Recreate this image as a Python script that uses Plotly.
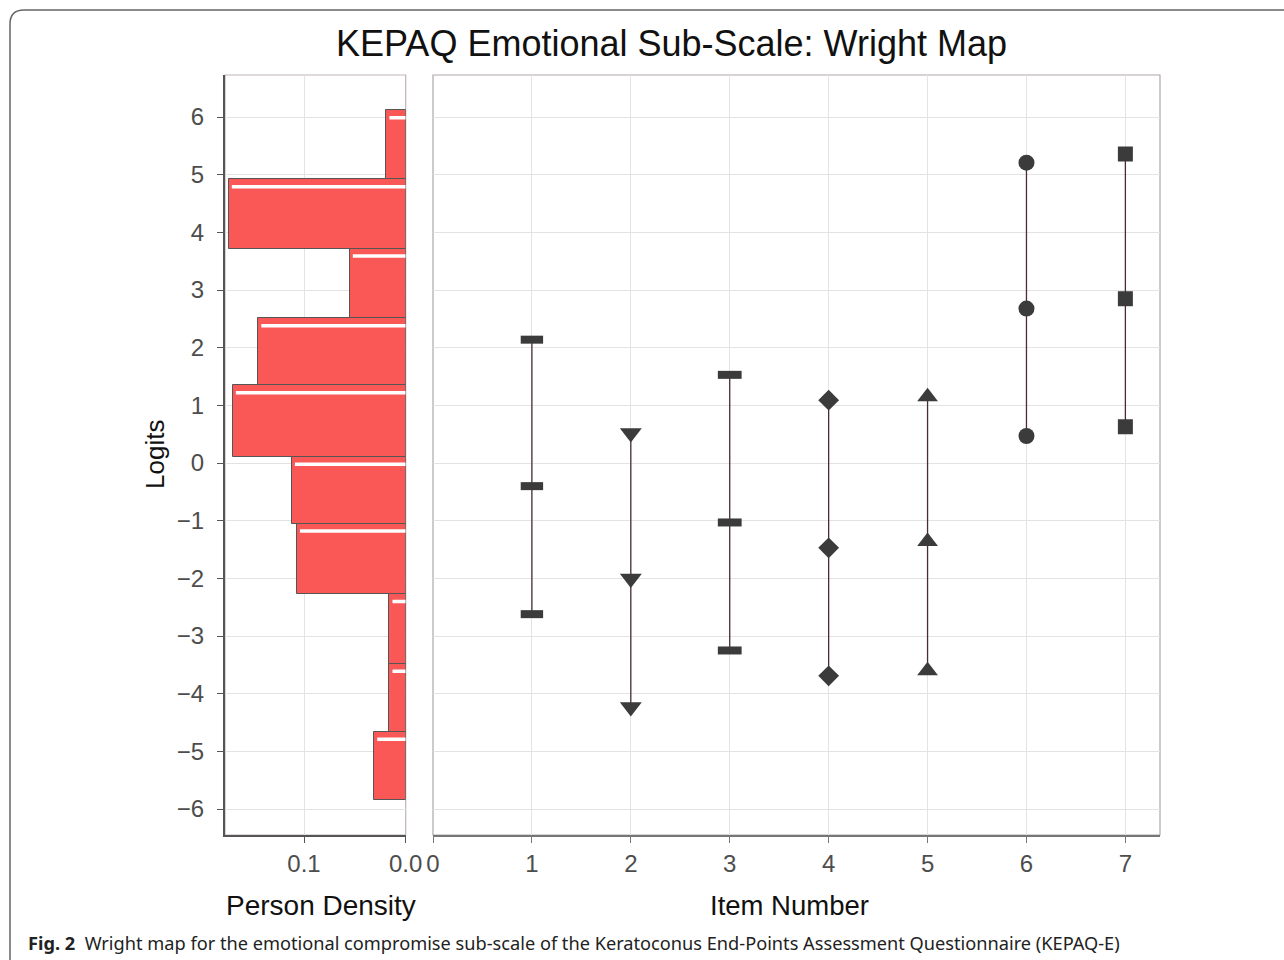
import plotly.graph_objects as go

# ---------------- data ----------------
# person density histogram (logit bin edges, top to bottom) and densities
bin_edges = [6.12, 4.92, 3.72, 2.51, 1.35, 0.11, -1.05, -2.27, -3.48, -4.66, -5.84]
densities = [0.019, 0.174, 0.055, 0.145, 0.170, 0.112, 0.107, 0.016, 0.016, 0.031]

# item thresholds (logits) for items 1..7
items = [1, 2, 3, 4, 5, 6, 7]
thresholds = [
    [2.14, -0.40, -2.62],
    [0.52, -2.00, -4.23],
    [1.53, -1.03, -3.25],
    [1.09, -1.47, -3.69],
    [1.15, -1.36, -3.60],
    [5.21, 2.68, 0.47],
    [5.36, 2.85, 0.63],
]
item_symbols = ["line-ew", "triangle-down", "line-ew", "diamond", "triangle-up", "circle", "square"]
item_sizes = [16, 19, 17, 16, 18, 16, 15]

y_ticks = list(range(-6, 7))
left_x_ticks = [0.1, 0.0]
left_x_labels = ["0.1", "0.0"]
right_x_ticks = list(range(0, 8))

title_text = "KEPAQ Emotional Sub-Scale: Wright Map"
caption_bold = "Fig. 2"
caption_text = "Wright map for the emotional compromise sub-scale of the Keratoconus End-Points Assessment Questionnaire (KEPAQ-E)"

# ---------------- figure ----------------
W, H = 1284, 960
def px(x):
    return x / W
def py(y):
    return 1 - y / H

FONT = "Liberation Sans, Arial, sans-serif"
YR = [-6.45, 6.73]

fig = go.Figure()

centers = [(bin_edges[i] + bin_edges[i + 1]) / 2 for i in range(len(densities))]
widths = [bin_edges[i] - bin_edges[i + 1] for i in range(len(densities))]

fig.add_trace(go.Bar(
    x=densities, y=centers, width=widths, orientation="h",
    marker=dict(color="#fa5757", line=dict(color="#555555", width=1)),
    xaxis="x", yaxis="y", showlegend=False, hoverinfo="skip",
))

# white highlight lines near top of each bar
hx, hy = [], []
for i, d in enumerate(densities):
    yy = bin_edges[i] - 0.13
    hx += [d - 0.003, 0.0, None]
    hy += [yy, yy, None]
fig.add_trace(go.Scatter(
    x=hx, y=hy, mode="lines", line=dict(color="white", width=3.5),
    xaxis="x", yaxis="y", showlegend=False, hoverinfo="skip",
))

for it, th, sym, sz in zip(items, thresholds, item_symbols, item_sizes):
    lw = 8 if sym == "line-ew" else 0
    fig.add_trace(go.Scatter(
        x=[it] * len(th), y=th, mode="lines+markers",
        line=dict(color="#4a2d30", width=1.3),
        marker=dict(symbol=sym, size=sz, color="#3b3b3b",
                    line=dict(color="#3b3b3b", width=lw)),
        xaxis="x2", yaxis="y2", showlegend=False,
    ))

left_dom = [px(225), px(405.7)]
right_dom = [px(433), px(1160)]
y_dom = [py(835), py(75)]

tickfont = dict(family=FONT, size=24, color="#4d4d4d")

fig.update_layout(
    width=W, height=H, autosize=False,
    margin=dict(l=0, r=0, t=0, b=0, pad=0, autoexpand=False),
    paper_bgcolor="white", plot_bgcolor="white",
    bargap=0,
    xaxis=dict(domain=left_dom, range=[0.1777, 0], tickvals=left_x_ticks, ticktext=left_x_labels,
               ticks="outside", ticklen=6, tickcolor="#555", showline=True, linecolor="#555",
               linewidth=2, showgrid=True, gridcolor="#e3e3e3", zeroline=False,
               tickfont=tickfont, anchor="y", fixedrange=True, automargin=False),
    yaxis=dict(domain=y_dom, range=YR, tickvals=y_ticks, ticks="outside", ticklen=6,
               tickcolor="#555", showline=True, linecolor="#555", linewidth=2,
               showgrid=True, gridcolor="#e3e3e3", zeroline=False, tickfont=tickfont,
               ticklabelstandoff=8, anchor="x", fixedrange=True, automargin=False),
    xaxis2=dict(domain=right_dom, range=[0, 7.35], tickvals=right_x_ticks, ticks="outside",
                ticklen=6, tickcolor="#777", showline=True, linecolor="#777", linewidth=1.5,
                showgrid=True, gridcolor="#e3e3e3", zeroline=False, tickfont=tickfont,
                anchor="y2", fixedrange=True, automargin=False),
    yaxis2=dict(domain=y_dom, range=YR, tickvals=y_ticks, showticklabels=False,
                showgrid=True, gridcolor="#e3e3e3", zeroline=False, showline=False,
                anchor="x2", fixedrange=True, automargin=False),
    shapes=[
        dict(type="rect", xref="x domain", yref="y domain", x0=0, x1=1, y0=0, y1=1,
             line=dict(color="#c0b4b4", width=1.2), layer="below"),
        dict(type="rect", xref="x2 domain", yref="y2 domain", x0=0, x1=1, y0=0, y1=1,
             line=dict(color="#b0a8a8", width=1.2), layer="below"),
        # outer rounded frame of the figure panel
        dict(type="path", xref="paper", yref="paper",
             path=(f"M {px(10)},{py(1000)} L {px(10)},{py(24)} "
                   f"Q {px(10)},{py(10)} {px(24)},{py(10)} L {px(1300)},{py(10)}"),
             line=dict(color="#666666", width=1.5)),
    ],
    annotations=[
        dict(text=title_text, x=px(672), y=py(43), xref="paper", yref="paper",
             showarrow=False, font=dict(family=FONT, size=36, color="#111"),
             xanchor="center", yanchor="middle"),
        dict(text="Logits", x=px(155), y=py(455), xref="paper", yref="paper", textangle=-90,
             showarrow=False, font=dict(family=FONT, size=26, color="#111"),
             xanchor="center", yanchor="middle"),
        dict(text="Person Density", x=px(321), y=py(905), xref="paper", yref="paper",
             showarrow=False, font=dict(family=FONT, size=28, color="#111"),
             xanchor="center", yanchor="middle"),
        dict(text="Item Number", x=px(789), y=py(905), xref="paper", yref="paper",
             showarrow=False, font=dict(family=FONT, size=27.5, color="#111"),
             xanchor="center", yanchor="middle"),
        dict(text=f"<b>{caption_bold}</b>  {caption_text}", x=px(26), y=py(943),
             xref="paper", yref="paper", showarrow=False,
             font=dict(family="Noto Sans, sans-serif", size=18.2, color="#222"),
             xanchor="left", yanchor="middle"),
    ],
)

fig.write_html(
    "out.html",
    config={"responsive": False, "displayModeBar": False},
    post_script="document.body.style.margin='0';document.body.style.overflow='hidden';",
)
